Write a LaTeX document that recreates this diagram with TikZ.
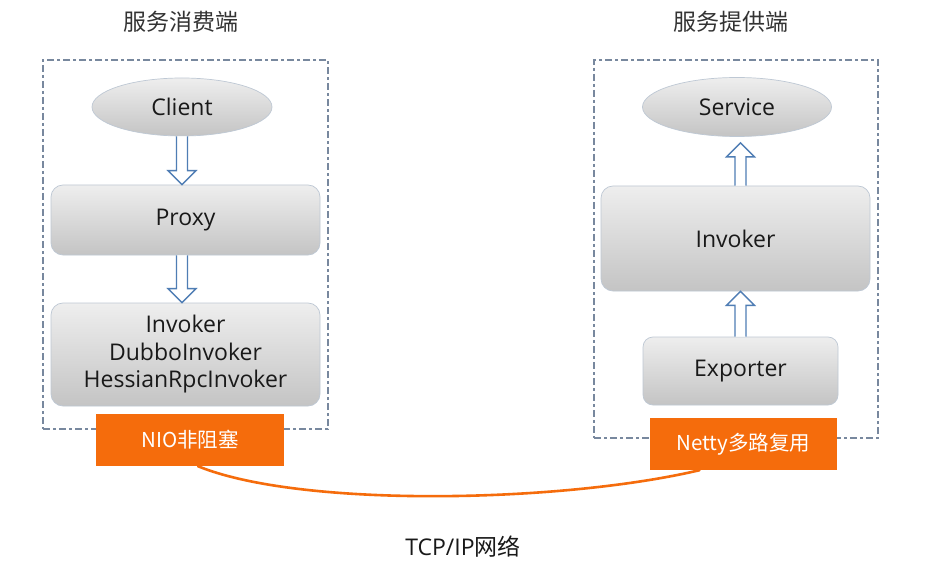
\documentclass[tikz,border=0pt]{standalone}
\usepackage{fontspec}
\setmainfont{Open Sans}
\newfontfamily\cjk{Noto Sans CJK SC}
\usetikzlibrary{shapes.geometric,calc}
\definecolor{orng}{RGB}{245,108,12}
\definecolor{arrblue}{RGB}{79,125,180}
\definecolor{dashc}{RGB}{120,136,158}
\definecolor{txt}{RGB}{25,25,25}
\definecolor{edgec}{RGB}{190,200,212}
\definecolor{gtop}{RGB}{238,238,238}
\definecolor{gbot}{RGB}{196,196,196}
\newcommand\harrow[3]{%
  \path[hollowarrow] ($(#1)+(-5.5,0)$) -- ($(#2)+(-5.5,#3*14)$) -- ($(#2)+(-14,#3*14)$) -- (#2)
    -- ($(#2)+(14,#3*14)$) -- ($(#2)+(5.5,#3*14)$) -- ($(#1)+(5.5,0)$);}
\begin{document}
\begin{tikzpicture}[x=1pt,y=-1pt,
  hollowarrow/.style={fill=white, draw=arrblue, line width=1.4pt, line join=miter},
  grad/.style={top color=gtop, bottom color=gbot, draw=edgec, line width=0.7pt},
  layerbox/.style={grad, rounded corners=12pt, inner sep=0pt, text=txt,
    font=\fontsize{23}{27.5}\selectfont, align=center},
  ellnode/.style={grad, ellipse, inner sep=0pt, text=txt, font=\fontsize{23}{27.5}\selectfont},
  orangebox/.style={fill=orng, inner sep=0pt, text=white, font=\cjk\fontsize{20.5}{24}\selectfont},
  frame/.style={draw=dashc, line width=1.2pt, dash pattern=on 7pt off 3pt on 3pt off 3pt, inner sep=0pt},
  titlenode/.style={text=black!80, font=\cjk\fontsize{23}{27}\selectfont},
  netlink/.style={draw=orng, line width=2.6pt, line cap=round}
]
\useasboundingbox[fill=white] (0,0) rectangle (928,561);

% titles
\node[titlenode] (ltitle) at (181,22) {服务消费端};
\node[titlenode] (rtitle) at (731,22) {服务提供端};

% frames
\node[frame, minimum width=285, minimum height=369] (lframe) at (185.5,244.5) {};
\node[frame, minimum width=284, minimum height=378] (rframe) at (736,249) {};

% consumer side
\node[ellnode, minimum width=180, minimum height=58] (client) at (182,107) {Client};
\node[layerbox, minimum width=269, minimum height=70] (proxy) at (185.5,220) {Proxy};
\node[layerbox, minimum width=269, minimum height=103] (linv) at (185.5,354.5)
  {Invoker\\DubboInvoker\\HessianRpcInvoker};
\node[orangebox, minimum width=188, minimum height=52] (nio) at (190,440) {NIO非阻塞};

% provider side
\node[ellnode, minimum width=189, minimum height=59] (service) at (737,107) {Service};
\node[layerbox, minimum width=269, minimum height=105] (rinv) at (735.5,238.5) {Invoker};
\node[layerbox, rounded corners=10pt, minimum width=195, minimum height=68] (exporter) at (740.5,371) {Exporter};
\node[orangebox, minimum width=187, minimum height=52] (netty) at (743.5,444) {Netty多路复用};

% network label
\node[text=txt, font=\fontsize{23}{27}\selectfont] (tcp) at (463,547) {TCP/IP{\cjk 网络}};

% hollow arrows
\harrow{client.south}{client.south |- proxy.north}{-1}
\harrow{client.south |- proxy.south}{client.south |- linv.north}{-1}
\harrow{exporter.north}{exporter.north |- rinv.south}{1}
\coordinate (svctip) at ($(exporter.north |- service.south)+(0,6)$);
\harrow{exporter.north |- rinv.north}{svctip}{1}

% network link
\draw[netlink] ($(nio.south)+(8,0)$) .. controls (300,508) and (560,503) .. ($(netty.south)+(-44,0)$);
\end{tikzpicture}
\end{document}
